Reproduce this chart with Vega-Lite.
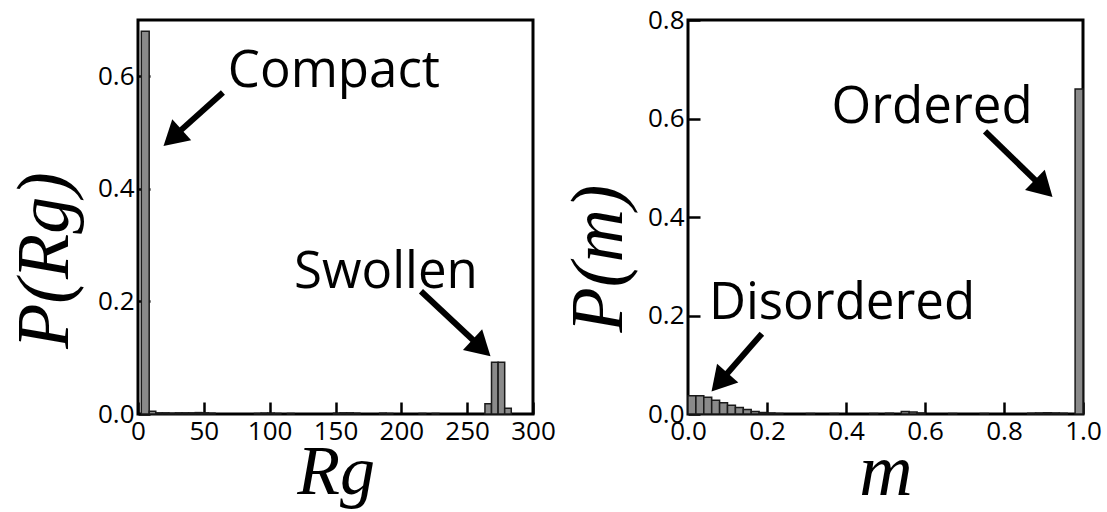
{
  "$schema": "https://vega.github.io/schema/vega-lite/v6.json",
  "background": "white",
  "padding": {"left": 6, "top": 5, "right": 5, "bottom": 2},
  "spacing": 3,
  "config": {
    "view": {"stroke": "black", "strokeWidth": 3},
    "axis": {
      "domain": false, "grid": false, "ticks": true, "tickSize": -12, "tickWidth": 2.5, "tickColor": "black",
      "labelFont": "Open Sans", "labelFontSize": 26, "labelColor": "black", "labelPadding": 16, "labelFlush": false,
      "titleFont": "Liberation Serif", "titleFontStyle": "italic", "titleFontWeight": "normal",
      "titleFontSize": 74, "titleColor": "black"
    }
  },
  "datasets": {
    "rg": [
      {"x": 2.5, "x2": 8.5, "y": 0.68},
      {"x": 8.5, "x2": 13.5, "y": 0.005},
      {"x": 13.5, "x2": 18.5, "y": 0.002},
      {"x": 18.5, "x2": 23.5, "y": 0.002},
      {"x": 23.5, "x2": 28.5, "y": 0.0015},
      {"x": 28.5, "x2": 33.5, "y": 0.002},
      {"x": 33.5, "x2": 38.5, "y": 0.002},
      {"x": 38.5, "x2": 43.5, "y": 0.002},
      {"x": 43.5, "x2": 48.5, "y": 0.0025},
      {"x": 48.5, "x2": 53.5, "y": 0.002},
      {"x": 53.5, "x2": 58.5, "y": 0.0015},
      {"x": 88.5, "x2": 93.5, "y": 0.001},
      {"x": 93.5, "x2": 98.5, "y": 0.0015},
      {"x": 98.5, "x2": 103.5, "y": 0.0015},
      {"x": 103.5, "x2": 108.5, "y": 0.001},
      {"x": 113.5, "x2": 118.5, "y": 0.001},
      {"x": 148.5, "x2": 153.5, "y": 0.0015},
      {"x": 153.5, "x2": 158.5, "y": 0.002},
      {"x": 158.5, "x2": 163.5, "y": 0.002},
      {"x": 163.5, "x2": 168.5, "y": 0.0015},
      {"x": 183.5, "x2": 188.5, "y": 0.0015},
      {"x": 188.5, "x2": 193.5, "y": 0.001},
      {"x": 213.5, "x2": 218.5, "y": 0.001},
      {"x": 223.5, "x2": 228.5, "y": 0.001},
      {"x": 263.5, "x2": 268.5, "y": 0.018},
      {"x": 268.5, "x2": 273.5, "y": 0.092},
      {"x": 273.5, "x2": 278.5, "y": 0.092},
      {"x": 278.5, "x2": 283.5, "y": 0.01}
    ],
    "rgArrow": [
      {"x": 64.5, "y": 0.571, "x2": 28.2, "y2": 0.495},
      {"x": 214.9, "y": 0.218, "x2": 258.9, "y2": 0.1218}
    ],
    "rgHead": [
      {"x": 26.3, "y": 0.4905, "angle": 228},
      {"x": 260.9, "y": 0.1175, "angle": 132.8}
    ],
    "rgText": [
      {"x": 148.8, "y": 0.607, "label": "Compact"},
      {"x": 188.3, "y": 0.25, "label": "Swollen"}
    ],
    "m": [
      {"x": 0.0, "x2": 0.02, "y": 0.037},
      {"x": 0.02, "x2": 0.04, "y": 0.037},
      {"x": 0.04, "x2": 0.06, "y": 0.034},
      {"x": 0.06, "x2": 0.08, "y": 0.028},
      {"x": 0.08, "x2": 0.1, "y": 0.023},
      {"x": 0.1, "x2": 0.12, "y": 0.018},
      {"x": 0.12, "x2": 0.14, "y": 0.013},
      {"x": 0.14, "x2": 0.16, "y": 0.009},
      {"x": 0.16, "x2": 0.18, "y": 0.005},
      {"x": 0.18, "x2": 0.2, "y": 0.003},
      {"x": 0.2, "x2": 0.22, "y": 0.002},
      {"x": 0.22, "x2": 0.24, "y": 0.001},
      {"x": 0.3, "x2": 0.32, "y": 0.001},
      {"x": 0.36, "x2": 0.38, "y": 0.001},
      {"x": 0.46, "x2": 0.48, "y": 0.001},
      {"x": 0.5, "x2": 0.52, "y": 0.0015},
      {"x": 0.54, "x2": 0.56, "y": 0.005},
      {"x": 0.56, "x2": 0.58, "y": 0.004},
      {"x": 0.58, "x2": 0.6, "y": 0.002},
      {"x": 0.66, "x2": 0.68, "y": 0.001},
      {"x": 0.74, "x2": 0.76, "y": 0.001},
      {"x": 0.86, "x2": 0.88, "y": 0.0015},
      {"x": 0.88, "x2": 0.9, "y": 0.002},
      {"x": 0.9, "x2": 0.92, "y": 0.0025},
      {"x": 0.92, "x2": 0.94, "y": 0.002},
      {"x": 0.94, "x2": 0.96, "y": 0.0015},
      {"x": 0.98, "x2": 1.0, "y": 0.66}
    ],
    "mArrow": [
      {"x": 0.752, "y": 0.574, "x2": 0.894, "y2": 0.463},
      {"x": 0.187, "y": 0.163, "x2": 0.0858, "y2": 0.0699}
    ],
    "mHead": [
      {"x": 0.9005, "y": 0.458, "angle": 134.1},
      {"x": 0.080, "y": 0.0644, "angle": 221.3}
    ],
    "mText": [
      {"x": 0.618, "y": 0.621, "label": "Ordered"},
      {"x": 0.39, "y": 0.224, "label": "Disordered"}
    ]
  },
  "hconcat": [
    {
      "width": 395, "height": 394,
      "encoding": {
        "x": {"field": "x", "type": "quantitative", "scale": {"domain": [0, 300], "nice": false, "zero": false},
              "axis": {"values": [0, 50, 100, 150, 200, 250, 300], "format": "d", "title": "Rg", "titlePadding": -6, "titleFontSize": 70}},
        "y": {"field": "y", "type": "quantitative", "stack": null, "scale": {"domain": [0, 0.7], "nice": false},
              "axis": {"values": [0, 0.2, 0.4, 0.6], "format": ".1f", "title": "P(Rg)", "titlePadding": 14, "titleY": 240}}
      },
      "layer": [
        {"data": {"name": "rg"}, "mark": {"type": "bar", "color": "#8a8a8a", "stroke": "#1a1a1a", "strokeWidth": 1.5},
         "encoding": {"x2": {"field": "x2"}, "y2": {"datum": 0}}},
        {"data": {"name": "rgArrow"}, "mark": {"type": "rule", "color": "black", "strokeWidth": 6},
         "encoding": {"x2": {"field": "x2"}, "y2": {"field": "y2"}}},
        {"data": {"name": "rgHead"}, "mark": {"type": "point", "shape": "triangle-up", "filled": true, "color": "black", "opacity": 1, "size": 800},
         "encoding": {"angle": {"field": "angle", "type": "quantitative", "scale": null}}},
        {"data": {"name": "rgText"}, "mark": {"type": "text", "align": "center", "baseline": "middle", "font": "Open Sans", "fontSize": 51, "color": "black"},
         "encoding": {"text": {"field": "label"}}}
      ]
    },
    {
      "width": 395, "height": 394,
      "encoding": {
        "x": {"field": "x", "type": "quantitative", "scale": {"domain": [0, 1], "nice": false},
              "axis": {"values": [0, 0.2, 0.4, 0.6, 0.8, 1.0], "format": ".1f", "title": "m", "titlePadding": -8}},
        "y": {"field": "y", "type": "quantitative", "stack": null, "scale": {"domain": [0, 0.8], "nice": false},
              "axis": {"values": [0, 0.2, 0.4, 0.6, 0.8], "format": ".1f", "title": "P(m)", "titlePadding": 10, "titleY": 238}}
      },
      "layer": [
        {"data": {"name": "m"}, "mark": {"type": "bar", "color": "#8a8a8a", "stroke": "#1a1a1a", "strokeWidth": 1.5},
         "encoding": {"x2": {"field": "x2"}, "y2": {"datum": 0}}},
        {"data": {"name": "mArrow"}, "mark": {"type": "rule", "color": "black", "strokeWidth": 6},
         "encoding": {"x2": {"field": "x2"}, "y2": {"field": "y2"}}},
        {"data": {"name": "mHead"}, "mark": {"type": "point", "shape": "triangle-up", "filled": true, "color": "black", "opacity": 1, "size": 800},
         "encoding": {"angle": {"field": "angle", "type": "quantitative", "scale": null}}},
        {"data": {"name": "mText"}, "mark": {"type": "text", "align": "center", "baseline": "middle", "font": "Open Sans", "fontSize": 51, "color": "black"},
         "encoding": {"text": {"field": "label"}}}
      ]
    }
  ]
}
